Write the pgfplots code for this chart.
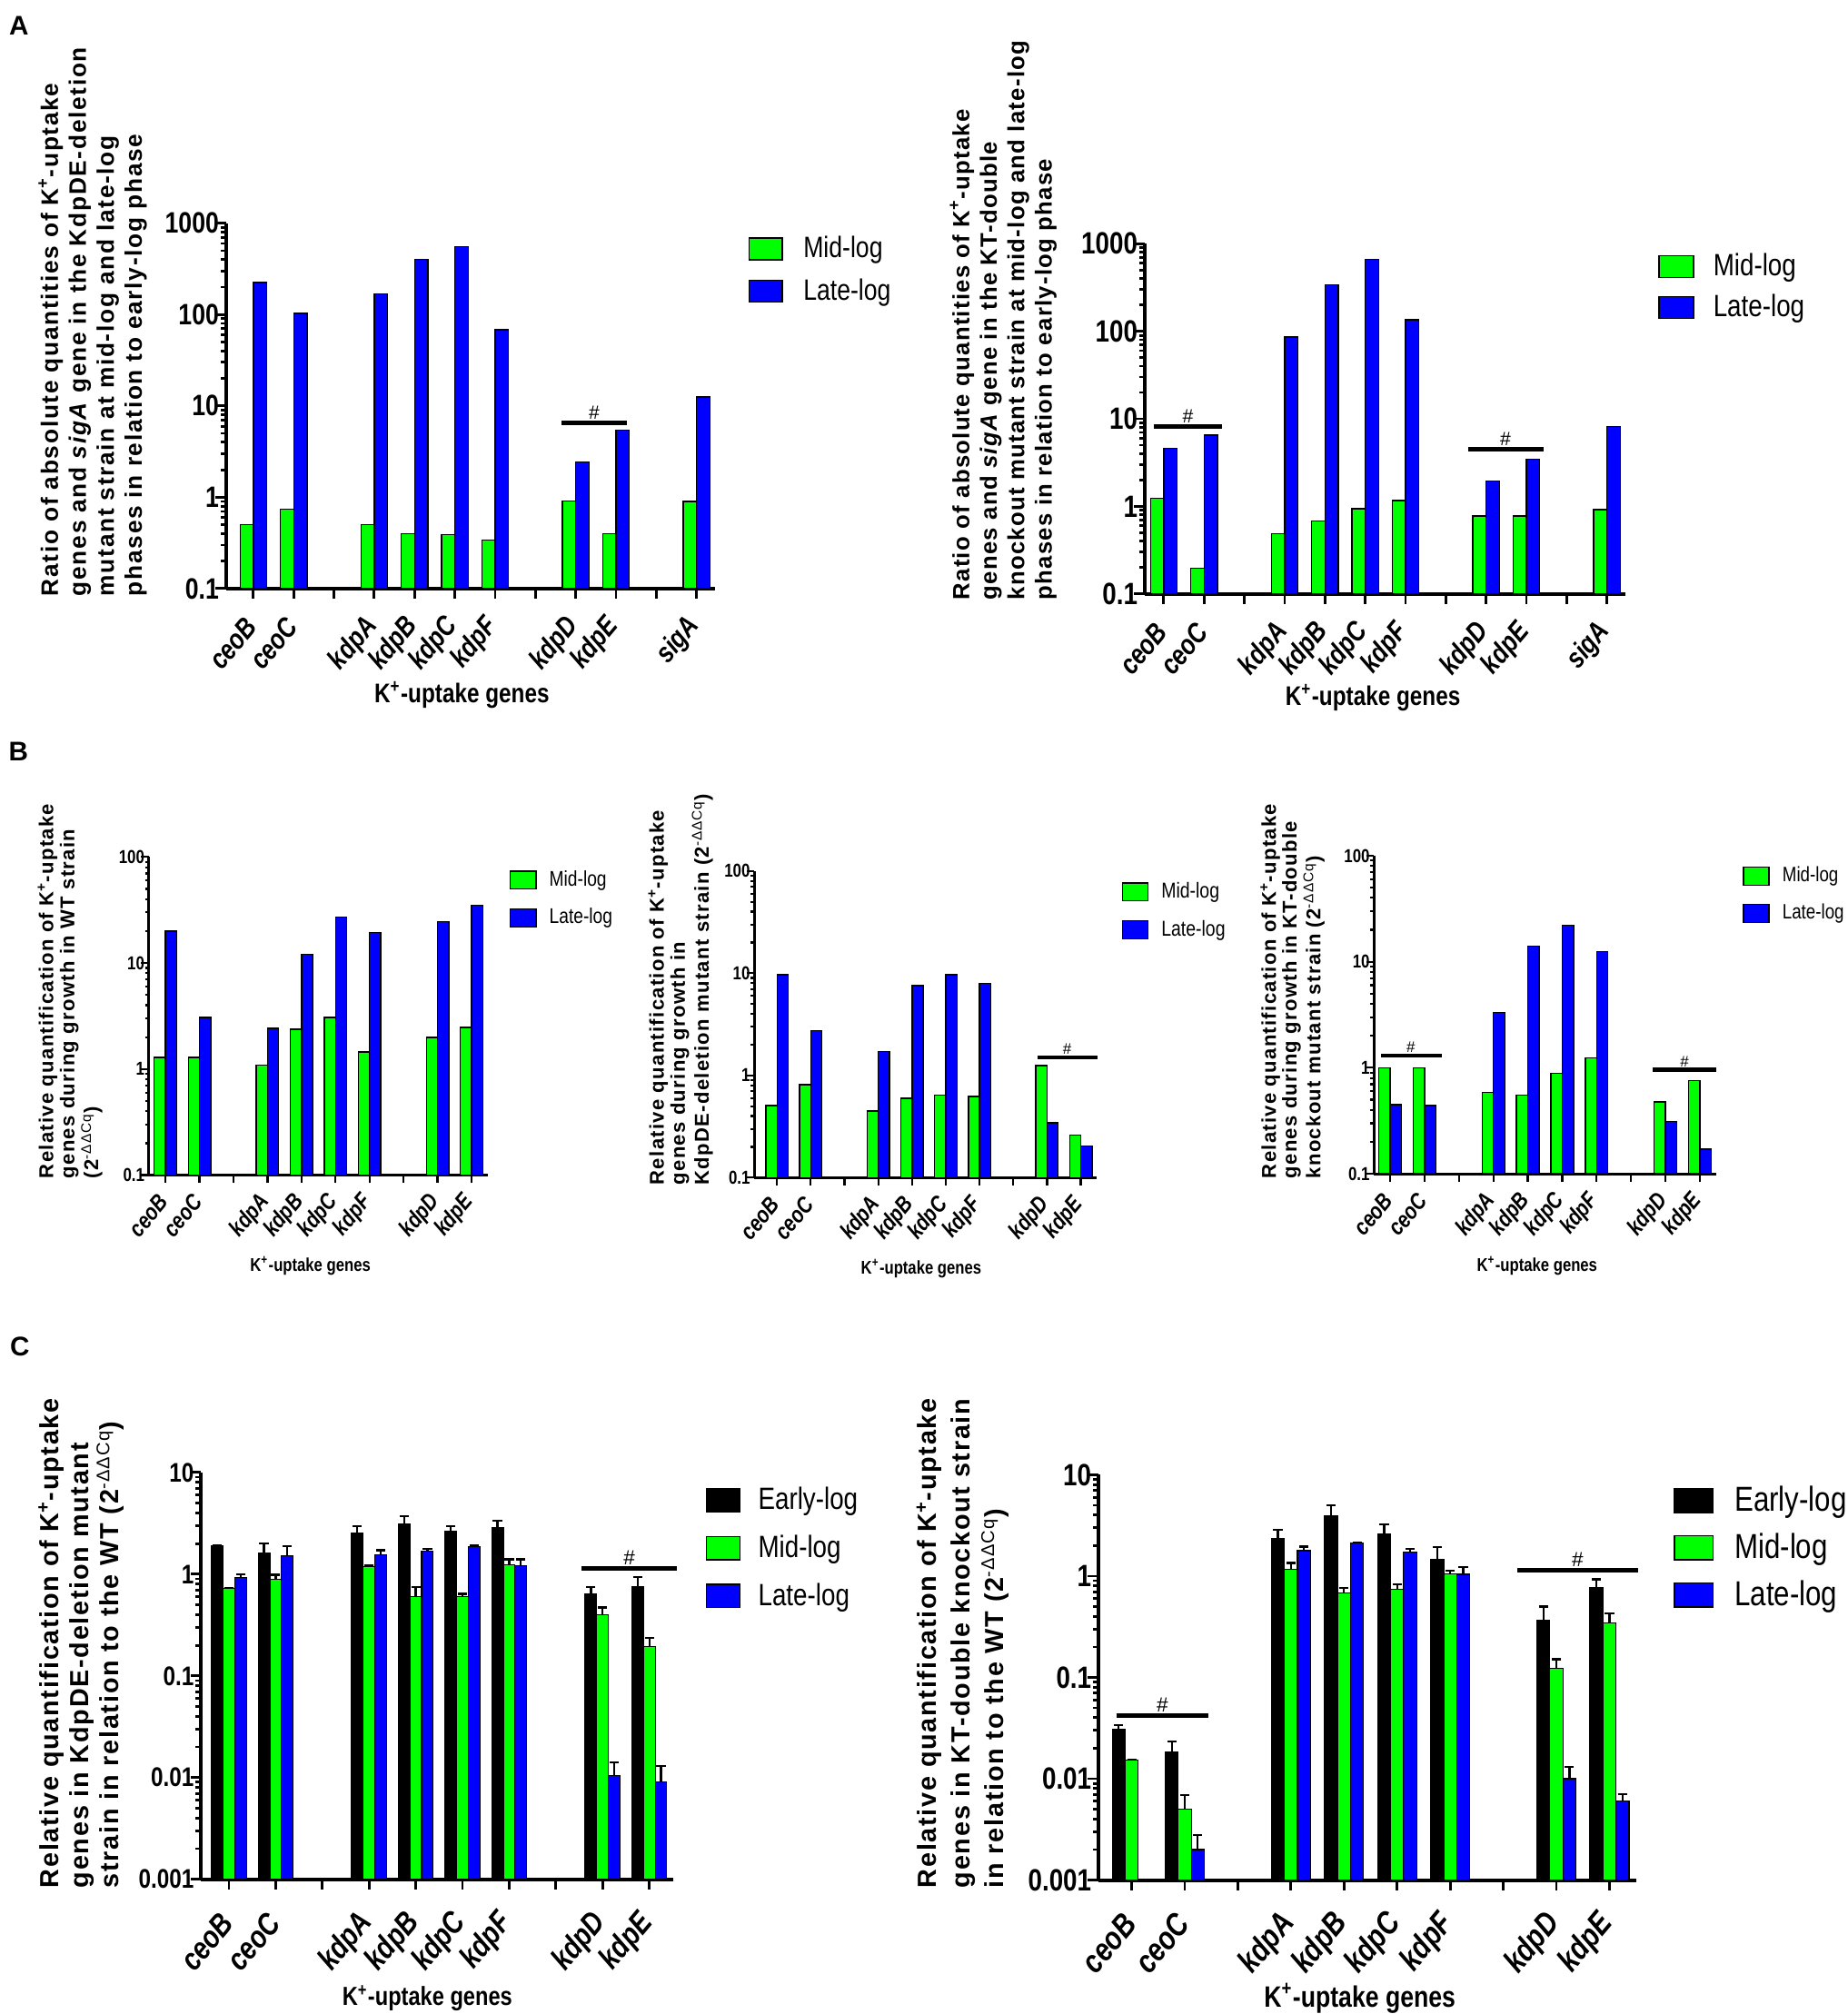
\documentclass[border=0pt]{standalone}
\usepackage{pgfplots}
\pgfplotsset{compat=1.18}
\usepackage{fontspec}
\setmainfont{Liberation Sans}
\newfontfamily\narrow[FakeStretch=0.82]{Liberation Sans}
\definecolor{cgreen}{RGB}{0,255,0}
\definecolor{cblue}{RGB}{0,0,255}
\newcommand{\fsz}[1]{\fontsize{#1}{#1}\selectfont}
\newcommand{\Kp}{K\textsuperscript{+}}
\newcommand{\ddcq}{\textsuperscript{\mdseries -ΔΔCq}}
\newcommand{\lbox}[4]{\draw[fill=#1,draw=black,line width=0.5pt] (0pt,-#3/2) rectangle (#2,#3/2); \path (#2+#4,0pt);}
\newcommand{\ylab}[4]{\bfseries\fontsize{#1}{#2}\selectfont\addfontfeatures{LetterSpace=#3}}

\pgfplotsset{every axis/.append style={
    scale only axis, clip=false, anchor=south west,
    axis x line*=bottom, axis y line*=left,
    ymode=log, log origin=infty,
    axis line style={line width=1.4pt, black},
    tick style={black, line width=1pt},
    major tick length=4pt, minor tick length=2pt,
    tick align=outside,
    xticklabel style={rotate=50, anchor=east, inner sep=1pt},
    yticklabel style={inner sep=1.5pt, xshift=3pt},
    legend cell align=left,
    legend style={draw=none, fill=none, inner sep=0pt, anchor=north west},
    xlabel style={anchor=center},
}}

\begin{document}
\begin{tikzpicture}
\path[use as bounding box] (0,0) rectangle (720pt,-785pt);

\node[font=\bfseries\fsz{10.5}] at (7.4pt,-10pt) {A};
\node[font=\bfseries\fsz{10.5}] at (7.2pt,-292.8pt) {B};
\node[font=\bfseries\fsz{10.5}] at (7.7pt,-525pt) {C};

% ---------------- A left
\begin{axis}[at={(88pt,-229.4pt)}, width=190.5pt, height=142.4pt,
  xmin=-0.685, xmax=11.45,
  xtick={0,...,11},
  xticklabels={ceoB,ceoC,{},kdpA,kdpB,kdpC,kdpF,{},kdpD,kdpE,{},sigA},
  ymin=0.1, ymax=1000,
  ytick={0.1,1,10,100,1000}, yticklabels={0.1,1,10,100,1000},
  minor ytick={0.2,0.3,0.4,0.5,0.6,0.7,0.8,0.9,2,3,4,5,6,7,8,9,20,30,40,50,60,70,80,90,200,300,400,500,600,700,800,900},
  legend style={at={(1.068,0.980)}, font=\narrow\fsz{11.5}, row sep=2.7pt},
  yticklabel style={font=\narrow\bfseries\fsz{11.5}},
  xticklabel style={font=\narrow\bfseries\itshape\fsz{11}},
  xticklabel shift=8pt,
  xlabel={\Kp-uptake genes},
  xlabel style={at={(axis description cs:0.483,-0.292)}, font=\narrow\bfseries\fsz{10.5}},
]
\addplot[ybar, bar width=0.33, bar shift=-0.165, fill=cgreen, draw=black, line width=0.5pt, forget plot] coordinates {(0,0.5) (1,0.74) (3,0.5) (4,0.4) (5,0.39) (6,0.34) (8,0.91) (9,0.4) (11,0.9)};
\addplot[ybar, bar width=0.33, bar shift=0.165, fill=cblue, draw=black, line width=0.5pt, forget plot] coordinates {(0,225) (1,103) (3,168) (4,400) (5,555) (6,68) (8,2.42) (9,5.4) (11,12.5)};
\addlegendimage{legend image code/.code={\lbox{cgreen}{13pt}{8.5pt}{6pt}}}
\addlegendimage{legend image code/.code={\lbox{cblue}{13pt}{8.5pt}{6pt}}}
\legend{Mid-log,Late-log}
\draw[line width=1.8pt] (axis cs:7.65,6.5) -- (axis cs:9.27,6.5);
\node[font=\fsz{7.5}, anchor=south, inner sep=1.2pt] at (axis cs:8.46,6.5) {\#};
\end{axis}

% ---------------- A right
\begin{axis}[at={(446pt,-231.5pt)}, width=187.5pt, height=136.5pt,
  xmin=-0.48, xmax=11.46,
  xtick={0,...,11},
  xticklabels={ceoB,ceoC,{},kdpA,kdpB,kdpC,kdpF,{},kdpD,kdpE,{},sigA},
  ymin=0.1, ymax=1000,
  ytick={0.1,1,10,100,1000}, yticklabels={0.1,1,10,100,1000},
  minor ytick={0.2,0.3,0.4,0.5,0.6,0.7,0.8,0.9,2,3,4,5,6,7,8,9,20,30,40,50,60,70,80,90,200,300,400,500,600,700,800,900},
  legend style={at={(1.067,0.988)}, font=\narrow\fsz{12}, row sep=1.7pt},
  yticklabel style={font=\narrow\bfseries\fsz{12}},
  xticklabel style={font=\narrow\bfseries\itshape\fsz{11}},
  xticklabel shift=8pt,
  xlabel={\Kp-uptake genes},
  xlabel style={at={(axis description cs:0.475,-0.297)}, font=\narrow\bfseries\fsz{10.5}},
]
\addplot[ybar, bar width=0.33, bar shift=-0.165, fill=cgreen, draw=black, line width=0.5pt, forget plot] coordinates {(0,1.23) (1,0.196) (3,0.485) (4,0.68) (5,0.94) (6,1.17) (8,0.78) (9,0.78) (11,0.92)};
\addplot[ybar, bar width=0.33, bar shift=0.165, fill=cblue, draw=black, line width=0.5pt, forget plot] coordinates {(0,4.6) (1,6.5) (3,86) (4,340) (5,667) (6,136) (8,1.96) (9,3.44) (11,8.2)};
\addlegendimage{legend image code/.code={\lbox{cgreen}{13.5pt}{8.5pt}{5.5pt}}}
\addlegendimage{legend image code/.code={\lbox{cblue}{13.5pt}{8.5pt}{5.5pt}}}
\legend{Mid-log,Late-log}
\draw[line width=1.8pt] (axis cs:-0.25,8.2) -- (axis cs:1.45,8.2);
\node[font=\fsz{7.5}, anchor=south, inner sep=1.2pt] at (axis cs:0.6,8.2) {\#};
\draw[line width=1.8pt] (axis cs:7.55,4.45) -- (axis cs:9.42,4.45);
\node[font=\fsz{7.5}, anchor=south, inner sep=1.2pt] at (axis cs:8.48,4.45) {\#};
\end{axis}

% ---------------- B1
\begin{axis}[at={(58pt,-458pt)}, width=132pt, height=124pt,
  xmin=-0.49, xmax=9.47,
  xtick={0,...,9},
  xticklabels={ceoB,ceoC,{},kdpA,kdpB,kdpC,kdpF,{},kdpD,kdpE},
  ymin=0.1, ymax=100,
  ytick={0.1,1,10,100}, yticklabels={0.1,1,10,100},
  minor ytick={0.2,0.3,0.4,0.5,0.6,0.7,0.8,0.9,2,3,4,5,6,7,8,9,20,30,40,50,60,70,80,90},
  axis line style={line width=1.1pt, black},
  major tick length=3pt, minor tick length=1.5pt,
  tick style={black, line width=0.8pt},
  legend style={at={(1.064,0.975)}, font=\narrow\fsz{8.3}, row sep=3.2pt},
  yticklabel style={font=\narrow\bfseries\fsz{7.3}},
  xticklabel style={font=\narrow\bfseries\itshape\fsz{9}},
  xticklabel shift=5pt,
  xlabel={\Kp-uptake genes},
  xlabel style={at={(axis description cs:0.477,-0.286)}, font=\narrow\bfseries\fsz{7.2}},
]
\addplot[ybar, bar width=0.33, bar shift=-0.165, fill=cgreen, draw=black, line width=0.5pt, forget plot] coordinates {(0,1.29) (1,1.29) (3,1.09) (4,2.38) (5,3.07) (6,1.45) (8,1.98) (9,2.46)};
\addplot[ybar, bar width=0.33, bar shift=0.165, fill=cblue, draw=black, line width=0.5pt, forget plot] coordinates {(0,20) (1,3.07) (3,2.42) (4,12.1) (5,27) (6,19.4) (8,24.6) (9,35)};
\addlegendimage{legend image code/.code={\lbox{cgreen}{10pt}{7pt}{3pt}}}
\addlegendimage{legend image code/.code={\lbox{cblue}{10pt}{7pt}{3pt}}}
\legend{Mid-log,Late-log}
\end{axis}

% ---------------- B2
\begin{axis}[at={(294pt,-459pt)}, width=133.5pt, height=119.5pt,
  xmin=-0.67, xmax=9.48,
  xtick={0,...,9},
  xticklabels={ceoB,ceoC,{},kdpA,kdpB,kdpC,kdpF,{},kdpD,kdpE},
  ymin=0.1, ymax=100,
  ytick={0.1,1,10,100}, yticklabels={0.1,1,10,100},
  minor ytick={0.2,0.3,0.4,0.5,0.6,0.7,0.8,0.9,2,3,4,5,6,7,8,9,20,30,40,50,60,70,80,90},
  axis line style={line width=1.1pt, black},
  major tick length=3pt, minor tick length=1.5pt,
  tick style={black, line width=0.8pt},
  legend style={at={(1.071,0.982)}, font=\narrow\fsz{8.4}, row sep=3.2pt},
  yticklabel style={font=\narrow\bfseries\fsz{7.3}},
  xticklabel style={font=\narrow\bfseries\itshape\fsz{9}},
  xticklabel shift=5pt,
  xlabel={\Kp-uptake genes},
  xlabel style={at={(axis description cs:0.487,-0.297)}, font=\narrow\bfseries\fsz{7.2}},
]
\addplot[ybar, bar width=0.33, bar shift=-0.165, fill=cgreen, draw=black, line width=0.5pt, forget plot] coordinates {(0,0.506) (1,0.81) (3,0.45) (4,0.6) (5,0.64) (6,0.625) (8,1.25) (9,0.262)};
\addplot[ybar, bar width=0.33, bar shift=0.165, fill=cblue, draw=black, line width=0.5pt, forget plot] coordinates {(0,9.7) (1,2.76) (3,1.71) (4,7.55) (5,9.7) (6,7.94) (8,0.344) (9,0.203)};
\addlegendimage{legend image code/.code={\lbox{cgreen}{10pt}{7pt}{3pt}}}
\addlegendimage{legend image code/.code={\lbox{cblue}{10pt}{7pt}{3pt}}}
\legend{Mid-log,Late-log}
\draw[line width=1.5pt] (axis cs:7.72,1.49) -- (axis cs:9.5,1.49);
\node[font=\fsz{6}, anchor=south, inner sep=1pt] at (axis cs:8.6,1.49) {\#};
\end{axis}

% ---------------- B3
\begin{axis}[at={(535.5pt,-457.5pt)}, width=133.5pt, height=124pt,
  xmin=-0.47, xmax=9.49,
  xtick={0,...,9},
  xticklabels={ceoB,ceoC,{},kdpA,kdpB,kdpC,kdpF,{},kdpD,kdpE},
  ymin=0.1, ymax=100,
  ytick={0.1,1,10,100}, yticklabels={0.1,1,10,100},
  minor ytick={0.2,0.3,0.4,0.5,0.6,0.7,0.8,0.9,2,3,4,5,6,7,8,9,20,30,40,50,60,70,80,90},
  axis line style={line width=1.1pt, black},
  major tick length=3pt, minor tick length=1.5pt,
  tick style={black, line width=0.8pt},
  legend style={at={(1.075,0.983)}, font=\narrow\fsz{8.1}, row sep=3.2pt},
  yticklabel style={font=\narrow\bfseries\fsz{7.3}},
  xticklabel style={font=\narrow\bfseries\itshape\fsz{9}},
  xticklabel shift=5pt,
  xlabel={\Kp-uptake genes},
  xlabel style={at={(axis description cs:0.476,-0.290)}, font=\narrow\bfseries\fsz{7.2}},
]
\addplot[ybar, bar width=0.33, bar shift=-0.165, fill=cgreen, draw=black, line width=0.5pt, forget plot] coordinates {(0,1.0) (1,1.0) (3,0.586) (4,0.55) (5,0.89) (6,1.24) (8,0.477) (9,0.76)};
\addplot[ybar, bar width=0.33, bar shift=0.165, fill=cblue, draw=black, line width=0.5pt, forget plot] coordinates {(0,0.45) (1,0.44) (3,3.32) (4,14.1) (5,22) (6,12.5) (8,0.31) (9,0.17)};
\addlegendimage{legend image code/.code={\lbox{cgreen}{10pt}{7pt}{3pt}}}
\addlegendimage{legend image code/.code={\lbox{cblue}{10pt}{7pt}{3pt}}}
\legend{Mid-log,Late-log}
\draw[line width=1.5pt] (axis cs:-0.27,1.3) -- (axis cs:1.49,1.3);
\node[font=\fsz{6}, anchor=south, inner sep=1pt] at (axis cs:0.6,1.3) {\#};
\draw[line width=1.5pt] (axis cs:7.63,0.96) -- (axis cs:9.49,0.96);
\node[font=\fsz{6}, anchor=south, inner sep=1pt] at (axis cs:8.56,0.96) {\#};
\end{axis}

% ---------------- C left
\begin{axis}[at={(78.3pt,-732.5pt)}, width=184.2pt, height=158.6pt,
  xmin=-0.6, xmax=9.52,
  xtick={0,...,9},
  xticklabels={ceoB,ceoC,{},kdpA,kdpB,kdpC,kdpF,{},kdpD,kdpE},
  ymin=0.001, ymax=10,
  ytick={0.001,0.01,0.1,1,10}, yticklabels={0.001,0.01,0.1,1,10},
  minor ytick={0.002,0.003,0.004,0.005,0.006,0.007,0.008,0.009,0.02,0.03,0.04,0.05,0.06,0.07,0.08,0.09,0.2,0.3,0.4,0.5,0.6,0.7,0.8,0.9,2,3,4,5,6,7,8,9},
  legend style={at={(1.067,0.978)}, font=\narrow\fsz{12}, row sep=4.5pt},
  yticklabel style={font=\narrow\bfseries\fsz{10.5}},
  xticklabel style={font=\narrow\bfseries\itshape\fsz{12.2}},
  xticklabel shift=10pt,
  xlabel={\Kp-uptake genes},
  xlabel style={at={(axis description cs:0.479,-0.293)}, font=\narrow\bfseries\fsz{10.2}},
]
\addplot[ybar, bar width=0.25, bar shift=0pt, fill=black, draw=black, line width=0.4pt, forget plot,
  error bars/.cd, y dir=plus, y explicit, error bar style={line width=0.8pt, black},
  error mark options={rotate=90, black, line width=0.8pt, mark size=1.8pt}] coordinates {
 (-0.25,1.89) +- (0,0.03) (0.75,1.62) +- (0,0.37) (2.75,2.53) +- (0,0.42) (3.75,3.13) +- (0,0.59)
 (4.75,2.64) +- (0,0.31) (5.75,2.89) +- (0,0.47) (7.75,0.635) +- (0,0.11) (8.75,0.76) +- (0,0.17)};
\addplot[ybar, bar width=0.25, bar shift=0pt, fill=cgreen, draw=black, line width=0.4pt, forget plot,
  error bars/.cd, y dir=plus, y explicit, error bar style={line width=0.8pt, black},
  error mark options={rotate=90, black, line width=0.8pt, mark size=1.8pt}] coordinates {
 (0,0.72) +- (0,0.01) (1,0.886) +- (0,0.1) (3,1.19) +- (0,0.03) (4,0.6) +- (0,0.15)
 (5,0.6) +- (0,0.04) (6,1.24) +- (0,0.16) (8,0.40) +- (0,0.07) (9,0.193) +- (0,0.045)};
\addplot[ybar, bar width=0.25, bar shift=0pt, fill=cblue, draw=black, line width=0.4pt, forget plot,
  error bars/.cd, y dir=plus, y explicit, error bar style={line width=0.8pt, black},
  error mark options={rotate=90, black, line width=0.8pt, mark size=1.8pt}] coordinates {
 (0.25,0.92) +- (0,0.08) (1.25,1.51) +- (0,0.38) (3.25,1.56) +- (0,0.16) (4.25,1.69) +- (0,0.09)
 (5.25,1.85) +- (0,0.06) (6.25,1.21) +- (0,0.19) (8.25,0.0104) +- (0,0.0037) (9.25,0.009) +- (0,0.004)};
\addlegendimage{legend image code/.code={\lbox{black}{13pt}{9pt}{5pt}}}
\addlegendimage{legend image code/.code={\lbox{cgreen}{13pt}{9pt}{5pt}}}
\addlegendimage{legend image code/.code={\lbox{cblue}{13pt}{9pt}{5pt}}}
\legend{Early-log,Mid-log,Late-log}
\draw[line width=1.8pt] (axis cs:7.55,1.14) -- (axis cs:9.59,1.14);
\node[font=\fsz{8}, anchor=south, inner sep=1.2pt] at (axis cs:8.57,1.14) {\#};
\end{axis}

% ---------------- C right
\begin{axis}[at={(428pt,-732.8pt)}, width=209.8pt, height=158pt,
  xmin=-0.63, xmax=9.51,
  xtick={0,...,9},
  xticklabels={ceoB,ceoC,{},kdpA,kdpB,kdpC,kdpF,{},kdpD,kdpE},
  ymin=0.001, ymax=10,
  ytick={0.001,0.01,0.1,1,10}, yticklabels={0.001,0.01,0.1,1,10},
  minor ytick={0.002,0.003,0.004,0.005,0.006,0.007,0.008,0.009,0.02,0.03,0.04,0.05,0.06,0.07,0.08,0.09,0.2,0.3,0.4,0.5,0.6,0.7,0.8,0.9,2,3,4,5,6,7,8,9},
  legend style={at={(1.068,0.986)}, font=\narrow\fsz{13.5}, row sep=3.1pt},
  yticklabel style={font=\narrow\bfseries\fsz{12}},
  xticklabel style={font=\narrow\bfseries\itshape\fsz{12.6}},
  xticklabel shift=10pt,
  xlabel={\Kp-uptake genes},
  xlabel style={at={(axis description cs:0.486,-0.292)}, font=\narrow\bfseries\fsz{11.5}},
]
\addplot[ybar, bar width=0.245, bar shift=0pt, fill=black, draw=black, line width=0.4pt, forget plot,
  error bars/.cd, y dir=plus, y explicit, error bar style={line width=0.8pt, black},
  error mark options={rotate=90, black, line width=0.8pt, mark size=1.8pt}] coordinates {
 (-0.245,0.0306) +- (0,0.0035) (0.755,0.0184) +- (0,0.0048) (2.755,2.34) +- (0,0.52) (3.755,3.91) +- (0,1.1)
 (4.755,2.58) +- (0,0.65) (5.755,1.45) +- (0,0.48) (7.755,0.364) +- (0,0.137) (8.755,0.777) +- (0,0.15)};
\addplot[ybar, bar width=0.245, bar shift=0pt, fill=cgreen, draw=black, line width=0.4pt, forget plot,
  error bars/.cd, y dir=plus, y explicit, error bar style={line width=0.8pt, black},
  error mark options={rotate=90, black, line width=0.8pt, mark size=1.8pt}] coordinates {
 (0,0.0153) +- (0,0.0002) (1,0.005) +- (0,0.0019) (3,1.17) +- (0,0.18) (4,0.68) +- (0,0.08)
 (5,0.746) +- (0,0.08) (6,1.06) +- (0,0.07) (8,0.1225) +- (0,0.029) (9,0.346) +- (0,0.085)};
\addplot[ybar, bar width=0.245, bar shift=0pt, fill=cblue, draw=black, line width=0.4pt, forget plot,
  error bars/.cd, y dir=plus, y explicit, error bar style={line width=0.8pt, black},
  error mark options={rotate=90, black, line width=0.8pt, mark size=1.8pt}] coordinates {
 (1.245,0.002) +- (0,0.0008) (3.245,1.78) +- (0,0.17) (4.245,2.11) +- (0,0.03)
 (5.245,1.74) +- (0,0.11) (6.245,1.04) +- (0,0.18) (8.245,0.010) +- (0,0.003) (9.245,0.006) +- (0,0.001)};
\addlegendimage{legend image code/.code={\lbox{black}{15pt}{9.5pt}{6.3pt}}}
\addlegendimage{legend image code/.code={\lbox{cgreen}{15pt}{9.5pt}{6.3pt}}}
\addlegendimage{legend image code/.code={\lbox{cblue}{15pt}{9.5pt}{6.3pt}}}
\legend{Early-log,Mid-log,Late-log}
\draw[line width=1.8pt] (axis cs:-0.29,0.042) -- (axis cs:1.45,0.042);
\node[font=\fsz{8}, anchor=south, inner sep=1.2pt] at (axis cs:0.58,0.042) {\#};
\draw[line width=1.8pt] (axis cs:7.27,1.15) -- (axis cs:9.54,1.15);
\node[font=\fsz{8}, anchor=south, inner sep=1.2pt] at (axis cs:8.4,1.15) {\#};
\end{axis}

% ---------------- y labels
\node[rotate=90, anchor=north west, align=left, inner sep=0pt, font=\ylab{9.3}{10.9}{6.5}{}] at (14.75pt,-232.5pt)
 {Ratio of absolute quantities of \Kp-uptake\\genes and \textit{sigA} gene in the KdpDE-deletion\\mutant strain at mid-log and late-log\\phases in relation to early-log phase};
\node[rotate=90, anchor=north west, align=left, inner sep=0pt, font=\ylab{9.1}{10.7}{5}{}] at (370pt,-234pt)
 {Ratio of absolute quantities of \Kp-uptake\\genes and \textit{sigA} gene in the KT-double\\knockout mutant strain at mid-log and late-log\\phases in relation to early-log phase};
\node[rotate=90, anchor=north west, align=left, inner sep=0pt, font=\ylab{7.8}{8.25}{6}{}] at (14.5pt,-459.5pt)
 {Relative quantification of \Kp-uptake\\genes during growth in WT strain\\(2\ddcq)};
\node[rotate=90, anchor=north west, align=left, inner sep=0pt, font=\ylab{7.8}{8.25}{6}{}] at (252.5pt,-462pt)
 {Relative quantification of \Kp-uptake\\genes during growth in\\KdpDE-deletion mutant strain (2\ddcq)};
\node[rotate=90, anchor=north west, align=left, inner sep=0pt, font=\ylab{7.8}{8.1}{6}{}] at (491pt,-459.5pt)
 {Relative quantification of \Kp-uptake\\genes during growth in KT-double\\knockout mutant strain (2\ddcq)};
\node[rotate=90, anchor=north west, align=left, inner sep=0pt, font=\ylab{10.2}{11.75}{6}{}] at (14.75pt,-736pt)
 {Relative quantification of \Kp-uptake\\genes in KdpDE-deletion mutant\\strain in relation to the WT (2\ddcq)};
\node[rotate=90, anchor=north west, align=left, inner sep=0pt, font=\ylab{10.2}{13}{6}{}] at (357pt,-736pt)
 {Relative quantification of \Kp-uptake\\genes in KT-double knockout strain\\in relation to the WT (2\ddcq)};
\end{tikzpicture}
\end{document}
